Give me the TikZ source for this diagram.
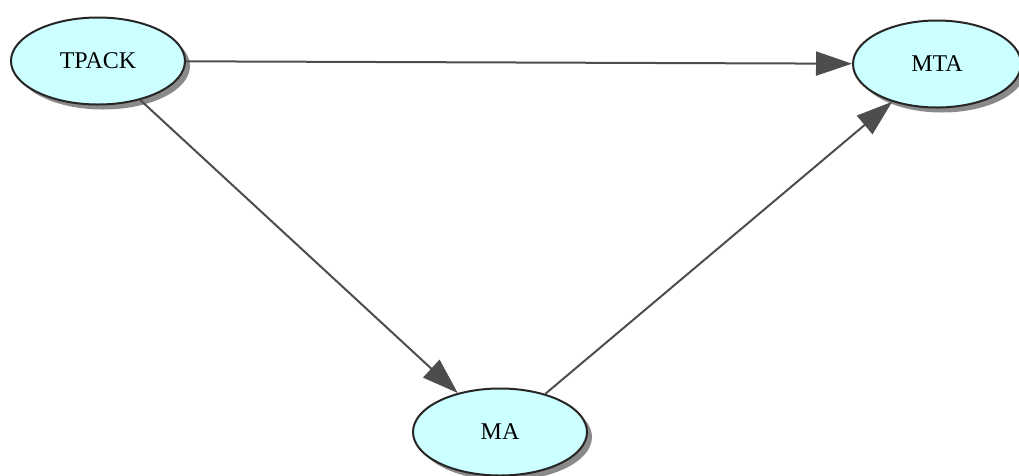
\documentclass[tikz,border=0pt]{standalone}
\usepackage{fontspec}
\setmainfont{Liberation Serif}
\usetikzlibrary{arrows.meta,shadows,shapes.geometric}
\definecolor{nodefill}{HTML}{CCFFFF}
\definecolor{edgecol}{HTML}{4D4D4D}
\definecolor{shadowcol}{HTML}{8A8A8A}
\begin{document}
\begin{tikzpicture}[x=1pt,y=-1pt,
  ellnode/.style={ellipse, draw=black!85, line width=2pt, fill=nodefill,
    minimum width=174pt, minimum height=87pt, inner sep=0pt,
    font=\fontsize{24}{28}\selectfont,
    drop shadow={shadow xshift=5pt, shadow yshift=-5pt, fill=shadowcol, opacity=1}},
  conn/.style={draw=edgecol, line width=2pt,
    -{Triangle[length=36pt,width=24pt,fill=edgecol]}}]
\useasboundingbox (0,0) rectangle (1019,475);
\node[ellnode] (tpack) at (98,61) {TPACK};
\node[ellnode, minimum width=168pt] (mta) at (937,64) {MTA};
\node[ellnode] (ma) at (500,432) {MA};
\draw[conn] (tpack) -- (mta);
\draw[conn] (tpack) -- (ma);
\draw[conn] (ma) -- (mta);
\end{tikzpicture}
\end{document}
